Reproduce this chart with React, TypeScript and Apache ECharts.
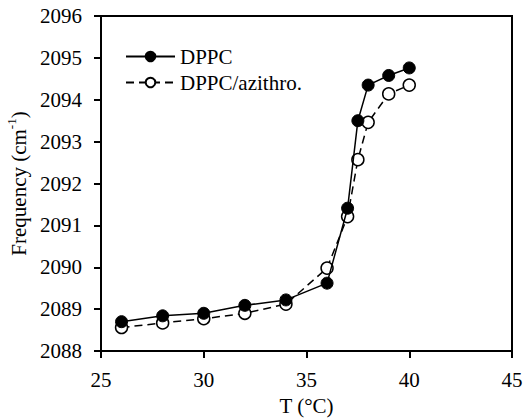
import React, { useEffect, useRef } from "react";
import * as echarts from "echarts";

const temps = [26, 28, 30, 32, 34, 36, 37, 37.5, 38, 39, 40];
const dppc = [2088.7, 2088.84, 2088.9, 2089.09, 2089.22, 2089.62, 2091.41, 2093.5, 2094.35, 2094.58, 2094.76];
const dppcAzithro = [2088.56, 2088.67, 2088.77, 2088.9, 2089.12, 2089.98, 2091.21, 2092.57, 2093.46, 2094.14, 2094.35];
const seriesNames = ["DPPC", "DPPC/azithro."];

const FONT = "'Liberation Serif', 'Times New Roman', serif";
const FS = 21;

export default function App() {
  const ref = useRef<HTMLDivElement>(null);
  useEffect(() => {
    if (!ref.current) return;
    const chart = echarts.init(ref.current, undefined, { renderer: "svg" });
    const pair = (ys: number[]) => temps.map((t, i) => [t, ys[i]]);
    chart.setOption({
      animation: false,
      backgroundColor: "#fff",
      grid: {
        left: 101, right: 13, top: 16, bottom: 67,
        outerBoundsMode: "none",
        containLabel: false,
        show: true, borderColor: "#000", borderWidth: 2, backgroundColor: "transparent",
      },
      legend: {
        orient: "vertical",
        left: 120,
        top: 41,
        itemWidth: 49,
        itemHeight: 12,
        itemGap: 5,
        textStyle: { fontFamily: FONT, fontSize: FS, color: "#000" },
        data: seriesNames,
      },
      xAxis: {
        type: "value",
        min: 25, max: 45, interval: 5,
        axisLine: { lineStyle: { color: "#000", width: 2 } },
        axisTick: { inside: false, length: 7, lineStyle: { color: "#000", width: 2 } },
        splitLine: { show: false },
        axisLabel: { fontFamily: FONT, fontSize: FS, color: "#000", margin: 18 },
        name: "T (°C)",
        nameLocation: "middle",
        nameGap: 43,
        nameTextStyle: { fontFamily: FONT, fontSize: FS, color: "#000", lineHeight: 22 },
      },
      yAxis: {
        type: "value",
        min: 2088, max: 2096, interval: 1,
        axisLine: { lineStyle: { color: "#000", width: 2 } },
        axisTick: { inside: false, length: 7, lineStyle: { color: "#000", width: 2 } },
        splitLine: { show: false },
        axisLabel: { fontFamily: FONT, fontSize: FS, color: "#000", margin: 19, formatter: (v: number) => String(v) },
        name: "{a|Frequency (cm}{s|-1}{a|)}",
        nameLocation: "middle",
        nameGap: 67,
        nameTextStyle: {
          fontFamily: FONT, fontSize: FS, color: "#000",
          rich: {
            a: { fontFamily: FONT, fontSize: FS, color: "#000", lineHeight: 24, verticalAlign: "bottom" },
            s: { fontFamily: FONT, fontSize: 13, color: "#000", lineHeight: 24, verticalAlign: "top" },
          },
        },
      },
      series: [
        {
          name: seriesNames[0],
          type: "line",
          data: pair(dppc),
          symbol: "circle",
          symbolSize: 12,
          itemStyle: { color: "#000", borderColor: "#000", borderWidth: 1 },
          lineStyle: { color: "#000", width: 1.5, type: "solid" },
          z: 3,
        },
        {
          name: seriesNames[1],
          type: "line",
          data: pair(dppcAzithro),
          symbol: "circle",
          symbolSize: 12,
          itemStyle: { color: "#fff", borderColor: "#000", borderWidth: 1.5 },
          lineStyle: { color: "#000", width: 1.5, type: [8, 5] },
          z: 2,
        },
      ],
    });
    return () => chart.dispose();
  }, []);
  return <div ref={ref} style={{ width: 525, height: 418, position: "absolute", left: 0, top: 0 }} />;
}
